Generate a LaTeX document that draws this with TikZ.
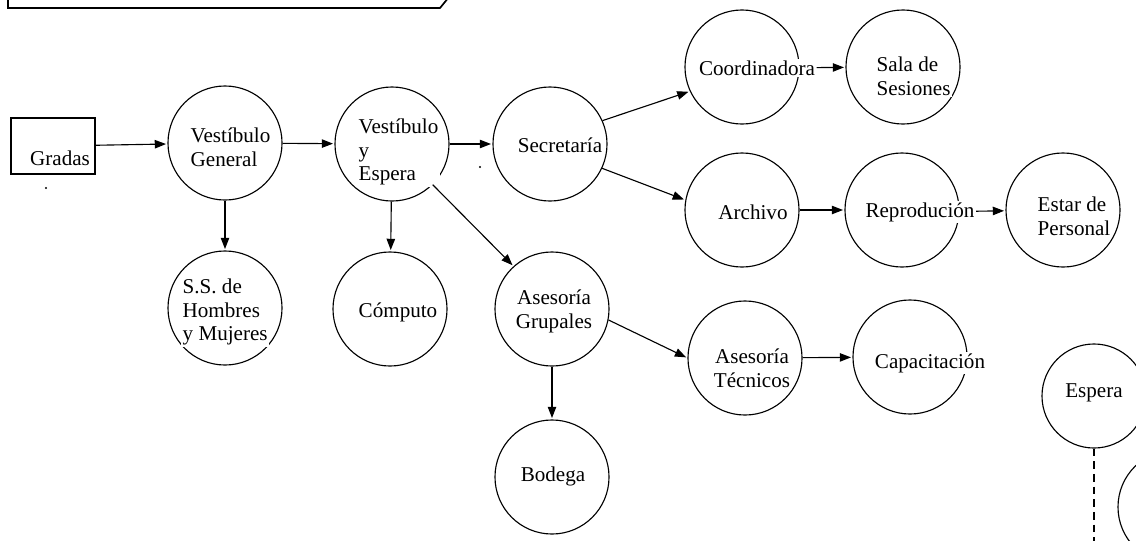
\documentclass[tikz,border=0pt]{standalone}
\usepackage{fontspec}
\setmainfont{Liberation Serif}
\usetikzlibrary{arrows.meta}
\tikzstyle{room}   = [circle, draw=black, line width=0.8pt, minimum size=2.85cm, inner sep=0pt]
\tikzstyle{stair}  = [rectangle, draw=black, line width=0.8pt, minimum width=2.1cm, minimum height=1.4cm]
\tikzstyle{tag}    = [font=\fontsize{15}{17}\selectfont, align=left, inner sep=1pt, fill=white]
\tikzstyle{arrow}  = [-{Triangle[length=8pt, width=6pt]}, line width=0.8pt, shorten >=1pt]
\tikzstyle{dashline} = [line width=0.8pt, dash pattern=on 5.5pt off 3.5pt]

\begin{document}
\begin{tikzpicture}[x=0.025cm, y=-0.025cm]
    \useasboundingbox (0,0) rectangle (1136,540);
    \fill[white] (0,0) rectangle (1136,540);

    % title box, cut at the top
    \draw[line width=1.2pt] (8,-3) -- (8,8) -- (440,8) -- (449,-3);

    % rooms
    \node (gradas) [stair] at (53,146) {};
    \node (vg) [room] at (225,143) {};
    \node (ss) [room] at (225,308) {};
    \node (vye) [room] at (392,144) {};
    \node (comp) [room] at (390,309) {};
    \node (secr) [room] at (550,144) {};
    \node (ag) [room] at (552,309) {};
    \node (bod) [room] at (552,477) {};
    \node (coord) [room] at (742,67) {};
    \node (sala) [room] at (903,67) {};
    \node (arch) [room] at (742,210) {};
    \node (repro) [room] at (902,210) {};
    \node (estar) [room] at (1063,210) {};
    \node (at) [room] at (745,358) {};
    \node (cap) [room] at (910,357) {};
    \node (espera) [room, minimum size=2.6cm] at (1094,396) {};
    \node (espera2) [room] at (1175,507) {};

    % names
    \node (gradasT) [tag] at (60,158) {Gradas};
    \node (vgT) [tag, anchor=west] at (189,147) {Vestíbulo\\General};
    \node (vyeT) [tag, anchor=west] at (357,152) {Vestíbulo\\y\\Espera};
    \node (secrT) [tag] at (560,145) {Secretaría};
    \node (ssT) [tag, anchor=west] at (181,312) {S.S. de\\Hombres\\y Mujeres};
    \node (compT) [tag] at (398,312) {Cómputo};
    \node (agT) [tag, align=center] at (554,311) {Asesoría\\Grupales};
    \node (bodT) [tag] at (553,476) {Bodega};
    \node (coordT) [tag] at (757,68) {Coordinadora};
    \node (salaT) [tag, anchor=west] at (875,76) {Sala de\\Sesiones};
    \node (archT) [tag] at (753,212) {Archivo};
    \node (reproT) [tag] at (920,212) {Reprodución};
    \node (estarT) [tag, anchor=west] at (1036,216) {Estar de\\Personal};
    \node (atT) [tag, align=center] at (752,368) {Asesoría\\Técnicos};
    \node (capT) [tag] at (930,363) {Capacitación};
    \node (esperaT) [tag] at (1094,393) {Espera};

    % stray dots
    \fill (46,188) circle (1.2);
    \fill (480,167) circle (1.2);

    \draw[arrow] (gradas) -- (vg);
    \draw[arrow] (vg) -- (vye);
    \draw[arrow] (vg) -- (ss);
    \draw[arrow] (vye) -- (secr);
    \draw[arrow] (vye) -- (comp);
    \draw[arrow] (vye.-45) -- (ag.132);
    \draw[arrow] (secr.24) -- (coord.205);
    \draw[arrow] (secr.-25) -- (arch.170);
    \draw[arrow] (coordT) -- (sala);
    \draw[arrow] (arch) -- (repro);
    \draw[arrow] (reproT) -- (estar);
    \draw[arrow] (ag) -- (bod);
    \draw[arrow] (ag.-11) -- (at.west);
    \draw[arrow] (at) -- (cap);

    \coordinate (esperaEnd) at (1094,545);
    \draw[dashline] (espera) -- (esperaEnd);
\end{tikzpicture}
\end{document}
